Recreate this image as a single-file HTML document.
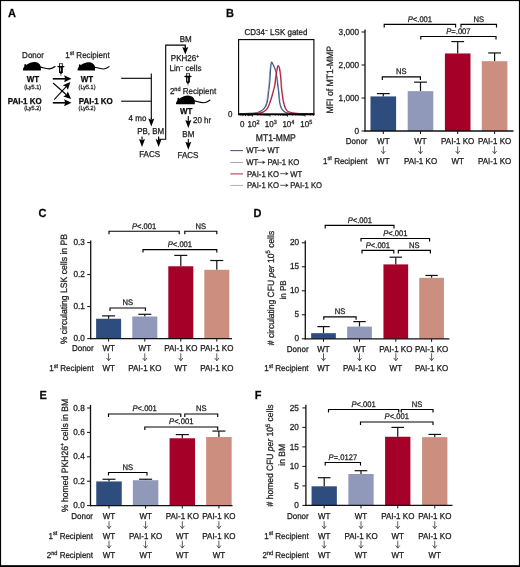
<!DOCTYPE html>
<html><head><meta charset="utf-8"><style>
html,body{margin:0;padding:0;background:#fff;}
svg{display:block;filter:blur(0.35px);}
text{font-family:"Liberation Sans", sans-serif;stroke:#222;stroke-width:0.25px;}
</style></head><body>
<svg width="520" height="567" viewBox="0 0 520 567" font-family='"Liberation Sans", sans-serif' text-rendering="geometricPrecision">
<rect width="520" height="567" fill="#fff"/>
<rect x="0.5" y="0.5" width="519" height="565.5" fill="none" stroke="#000" stroke-width="1.2"/>
<rect x="0" y="565.4" width="520" height="1.6" fill="#000"/>
<text x="0" y="0" transform="translate(8,16.9) scale(1,1.07)" font-size="11" text-anchor="start" font-weight="bold" font-style="normal" fill="#000">A</text>
<text x="0" y="0" transform="translate(226,17) scale(1,1.07)" font-size="11" text-anchor="start" font-weight="bold" font-style="normal" fill="#000">B</text>
<text x="0" y="0" transform="translate(38.5,217) scale(1,1.07)" font-size="11" text-anchor="start" font-weight="bold" font-style="normal" fill="#000">C</text>
<text x="0" y="0" transform="translate(253.6,216.6) scale(1,1.07)" font-size="11" text-anchor="start" font-weight="bold" font-style="normal" fill="#000">D</text>
<text x="0" y="0" transform="translate(39.5,399) scale(1,1.07)" font-size="11" text-anchor="start" font-weight="bold" font-style="normal" fill="#000">E</text>
<text x="0" y="0" transform="translate(254.8,398.8) scale(1,1.07)" font-size="11" text-anchor="start" font-weight="bold" font-style="normal" fill="#000">F</text>
<text x="0" y="0" transform="translate(33,57.8) scale(1,1.07)" font-size="8" text-anchor="middle" font-weight="normal" font-style="normal" fill="#222">Donor</text>
<text x="0" y="0" transform="translate(87.5,57.8) scale(1,1.07)" font-size="8" text-anchor="middle" font-weight="normal" font-style="normal" fill="#222">1<tspan dy="-3" font-size="5.6">st</tspan><tspan dy="3"> Recipient</tspan></text>
<path transform="translate(22.9,70.4) scale(1.0)" d="M0 -0.5 C0 -1.6 0.7 -2.7 1.4 -3.8 L1.4 -5.4 C1.5 -6.5 3.0 -6.7 3.3 -5.3 C5.2 -7.0 8.2 -8.4 11.6 -8.4 C14.6 -8.3 17.2 -6.6 17.7 -4.2 C18.0 -2.6 18.0 -1.0 17.9 0 L0.6 0 C0.2 -0.1 0 -0.3 0 -0.5 Z" fill="#000"/>
<path transform="translate(22.9,70.4) scale(1.0)" d="M17.4 -3.3 C20.5 -2.6 23.5 -1.4 26.5 -1.5 C29 -1.7 30.8 -2.8 32.2 -3.9" fill="none" stroke="#000" stroke-width="1.1" stroke-linecap="round"/>
<path transform="translate(77.5,70.4) scale(0.98)" d="M0 -0.5 C0 -1.6 0.7 -2.7 1.4 -3.8 L1.4 -5.4 C1.5 -6.5 3.0 -6.7 3.3 -5.3 C5.2 -7.0 8.2 -8.4 11.6 -8.4 C14.6 -8.3 17.2 -6.6 17.7 -4.2 C18.0 -2.6 18.0 -1.0 17.9 0 L0.6 0 C0.2 -0.1 0 -0.3 0 -0.5 Z" fill="#000"/>
<path transform="translate(77.5,70.4) scale(0.98)" d="M17.4 -3.3 C20.5 -2.6 23.5 -1.4 26.5 -1.5 C29 -1.7 30.8 -2.8 32.2 -3.9" fill="none" stroke="#000" stroke-width="1.1" stroke-linecap="round"/>
<g transform="translate(60.95,63.3) scale(1)"><path d="M-1.65 0.2 H1.55" stroke="#444" stroke-width="0.8" fill="none"/><path d="M-1.35 0.1 V3.3 M1.35 0.1 V3.3" stroke="#000" stroke-width="0.9" fill="none"/><path d="M-3.0 3.3 H2.9" stroke="#000" stroke-width="1.3" stroke-linecap="round" fill="none"/><path d="M-1.9 3.3 H1.9 V8.9 L0.25 10.9 H-0.25 L-1.9 8.9 Z" fill="#000"/><path d="M-0.35 4.4 V8.1" stroke="#fff" stroke-width="0.75" fill="none"/><path d="M0 10.5 V12.6" stroke="#555" stroke-width="0.7" fill="none"/></g>
<text x="0" y="0" transform="translate(33,82.3) scale(1,1.07)" font-size="8" text-anchor="middle" font-weight="bold" font-style="normal" fill="#000">WT</text>
<text x="0" y="0" transform="translate(32.6,88.6) scale(1,1.07)" font-size="5.5" text-anchor="middle" font-weight="normal" font-style="normal" fill="#222">(Ly5.1)</text>
<text x="0" y="0" transform="translate(24.7,104.3) scale(1,1.07)" font-size="8" text-anchor="middle" font-weight="bold" font-style="normal" fill="#000">PAI-1 KO</text>
<text x="0" y="0" transform="translate(32.6,110.4) scale(1,1.07)" font-size="5.5" text-anchor="middle" font-weight="normal" font-style="normal" fill="#222">(Ly5.2)</text>
<text x="0" y="0" transform="translate(87,82.3) scale(1,1.07)" font-size="8" text-anchor="middle" font-weight="bold" font-style="normal" fill="#000">WT</text>
<text x="0" y="0" transform="translate(87,88.6) scale(1,1.07)" font-size="5.5" text-anchor="middle" font-weight="normal" font-style="normal" fill="#222">(Ly5.1)</text>
<text x="0" y="0" transform="translate(95.8,104.3) scale(1,1.07)" font-size="8" text-anchor="middle" font-weight="bold" font-style="normal" fill="#000">PAI-1 KO</text>
<text x="0" y="0" transform="translate(87,110.4) scale(1,1.07)" font-size="5.5" text-anchor="middle" font-weight="normal" font-style="normal" fill="#222">(Ly5.2)</text>
<line x1="52.8" y1="78.8" x2="65.21" y2="78.8" stroke="#000" stroke-width="1.6"/>
<path d="M71.5 78.8 L64.1 82.3 L65.21 78.8 L64.1 75.3 Z" fill="#000"/>
<line x1="52.8" y1="102.8" x2="65.21" y2="102.8" stroke="#000" stroke-width="1.6"/>
<path d="M71.5 102.8 L64.1 106.3 L65.21 102.8 L64.1 99.3 Z" fill="#000"/>
<line x1="53.1" y1="83" x2="66.39" y2="94.74" stroke="#000" stroke-width="1.05"/>
<path d="M71.1 98.9 L63.3 96.55 L66.39 94.74 L67.8 91.45 Z" fill="#000"/>
<line x1="54.2" y1="99.6" x2="66.14" y2="86.63" stroke="#000" stroke-width="1.05"/>
<path d="M70.4 82 L67.89 89.75 L66.14 86.63 L62.89 85.14 Z" fill="#000"/>
<line x1="121.2" y1="78.3" x2="151.3" y2="78.3" stroke="#000" stroke-width="1.1"/>
<line x1="121.2" y1="101.2" x2="151.3" y2="101.2" stroke="#000" stroke-width="1.1"/>
<line x1="151.3" y1="73.4" x2="151.3" y2="119" stroke="#000" stroke-width="1.1"/>
<line x1="151.3" y1="118" x2="151.3" y2="119.7" stroke="#000" stroke-width="1.1"/>
<path d="M151.3 126.5 L148.3 118.5 L151.3 119.7 L154.3 118.5 Z" fill="#000"/>
<text x="0" y="0" transform="translate(137.5,120.7) scale(1,1.07)" font-size="8" text-anchor="middle" font-weight="normal" font-style="normal" fill="#222">4 mo</text>
<text x="0" y="0" transform="translate(150.7,134.4) scale(1,1.07)" font-size="8" text-anchor="middle" font-weight="normal" font-style="normal" fill="#222">PB, BM</text>
<line x1="142" y1="136.5" x2="142" y2="140.3" stroke="#000" stroke-width="1.1"/>
<path d="M142 147.1 L139 139.1 L142 140.3 L145 139.1 Z" fill="#000"/>
<path d="M158.6 136.5 V139.2 H165.7 V45.1 H185.3 V48" fill="none" stroke="#000" stroke-width="1.1"/>
<line x1="158.6" y1="137.5" x2="158.6" y2="140.3" stroke="#000" stroke-width="1.1"/>
<path d="M158.6 147.1 L155.6 139.1 L158.6 140.3 L161.6 139.1 Z" fill="#000"/>
<line x1="185.3" y1="46" x2="185.3" y2="48.23" stroke="#000" stroke-width="1.1"/>
<path d="M185.3 54.6 L182.3 47.1 L185.3 48.23 L188.3 47.1 Z" fill="#000"/>
<text x="0" y="0" transform="translate(149.6,156.7) scale(1,1.07)" font-size="8" text-anchor="middle" font-weight="normal" font-style="normal" fill="#222">FACS</text>
<text x="0" y="0" transform="translate(185.7,41.9) scale(1,1.07)" font-size="8" text-anchor="middle" font-weight="normal" font-style="normal" fill="#222">BM</text>
<text x="0" y="0" transform="translate(185,61.2) scale(1,1.07)" font-size="8" text-anchor="middle" font-weight="normal" font-style="normal" fill="#222">PKH26<tspan dy="-3" font-size="5">+</tspan><tspan dy="3"></tspan></text>
<text x="0" y="0" transform="translate(185.5,71.3) scale(1,1.07)" font-size="8" text-anchor="middle" font-weight="normal" font-style="normal" fill="#222">Lin<tspan dy="-3" font-size="5">&#8722;</tspan><tspan dy="3"> cells</tspan></text>
<g transform="translate(188,73.2) scale(1)"><path d="M-1.65 0.2 H1.55" stroke="#444" stroke-width="0.8" fill="none"/><path d="M-1.35 0.1 V3.3 M1.35 0.1 V3.3" stroke="#000" stroke-width="0.9" fill="none"/><path d="M-3.0 3.3 H2.9" stroke="#000" stroke-width="1.3" stroke-linecap="round" fill="none"/><path d="M-1.9 3.3 H1.9 V8.9 L0.25 10.9 H-0.25 L-1.9 8.9 Z" fill="#000"/><path d="M-0.35 4.4 V8.1" stroke="#fff" stroke-width="0.75" fill="none"/><path d="M0 10.5 V12.6" stroke="#555" stroke-width="0.7" fill="none"/></g>
<text x="0" y="0" transform="translate(193,93.8) scale(1,1.07)" font-size="8" text-anchor="middle" font-weight="normal" font-style="normal" fill="#222">2<tspan dy="-3" font-size="5.6">nd</tspan><tspan dy="3"> Recipient</tspan></text>
<path transform="translate(176,104.3) scale(1.05)" d="M0 -0.5 C0 -1.6 0.7 -2.7 1.4 -3.8 L1.4 -5.4 C1.5 -6.5 3.0 -6.7 3.3 -5.3 C5.2 -7.0 8.2 -8.4 11.6 -8.4 C14.6 -8.3 17.2 -6.6 17.7 -4.2 C18.0 -2.6 18.0 -1.0 17.9 0 L0.6 0 C0.2 -0.1 0 -0.3 0 -0.5 Z" fill="#000"/>
<path transform="translate(176,104.3) scale(1.05)" d="M17.4 -3.3 C20.5 -2.6 23.5 -1.4 26.5 -1.5 C29 -1.7 30.8 -2.8 32.2 -3.9" fill="none" stroke="#000" stroke-width="1.1" stroke-linecap="round"/>
<text x="0" y="0" transform="translate(186.2,113.8) scale(1,1.07)" font-size="8" text-anchor="middle" font-weight="bold" font-style="normal" fill="#000">WT</text>
<line x1="188.3" y1="116" x2="188.3" y2="121.2" stroke="#000" stroke-width="1.1"/>
<path d="M188.3 128 L185.3 120 L188.3 121.2 L191.3 120 Z" fill="#000"/>
<text x="0" y="0" transform="translate(193,123.2) scale(1,1.07)" font-size="8" text-anchor="start" font-weight="normal" font-style="normal" fill="#222">20 hr</text>
<text x="0" y="0" transform="translate(188.3,136.5) scale(1,1.07)" font-size="8" text-anchor="middle" font-weight="normal" font-style="normal" fill="#222">BM</text>
<line x1="188.3" y1="139" x2="188.3" y2="142.9" stroke="#000" stroke-width="1.1"/>
<path d="M188.3 149.7 L185.3 141.7 L188.3 142.9 L191.3 141.7 Z" fill="#000"/>
<text x="0" y="0" transform="translate(188,158) scale(1,1.07)" font-size="8" text-anchor="middle" font-weight="normal" font-style="normal" fill="#222">FACS</text>
<text x="0" y="0" transform="translate(276,35) scale(1,1.07)" font-size="8" text-anchor="middle" font-weight="normal" font-style="normal" fill="#222">CD34<tspan dy="-3" font-size="5">&#8722;</tspan><tspan dy="3"> LSK gated</tspan></text>
<text x="0" y="0" transform="translate(230.2,116.6) scale(1,1.07)" font-size="8" text-anchor="middle" font-weight="normal" font-style="normal" fill="#222">0</text>
<text x="0" y="0" transform="translate(242.2,127.3) scale(1,1.07)" font-size="8" text-anchor="middle" font-weight="normal" font-style="normal" fill="#222">0</text>
<text x="0" y="0" transform="translate(253.5,127.3) scale(1,1.07)" font-size="8" text-anchor="middle" font-weight="normal" font-style="normal" fill="#222">10<tspan dy="-3.2" font-size="5.5">2</tspan><tspan dy="3.2"></tspan></text>
<text x="0" y="0" transform="translate(270.8,127.3) scale(1,1.07)" font-size="8" text-anchor="middle" font-weight="normal" font-style="normal" fill="#222">10<tspan dy="-3.2" font-size="5.5">3</tspan><tspan dy="3.2"></tspan></text>
<text x="0" y="0" transform="translate(288.4,127.3) scale(1,1.07)" font-size="8" text-anchor="middle" font-weight="normal" font-style="normal" fill="#222">10<tspan dy="-3.2" font-size="5.5">4</tspan><tspan dy="3.2"></tspan></text>
<text x="0" y="0" transform="translate(306.3,127.3) scale(1,1.07)" font-size="8" text-anchor="middle" font-weight="normal" font-style="normal" fill="#222">10<tspan dy="-3.2" font-size="5.5">5</tspan><tspan dy="3.2"></tspan></text>
<text x="0" y="0" transform="translate(275.8,140.9) scale(1,1.13)" font-size="8.6" text-anchor="middle" font-weight="normal" font-style="normal" fill="#222">MT1-MMP</text>
<path d="M238.2 113.6 C240.03 113.57 246.47 113.5 249.2 113.4 C251.93 113.3 252.85 113.25 254.6 113 C256.35 112.75 258.15 112.65 259.7 111.9 C261.25 111.15 262.77 110.05 263.9 108.5 C265.03 106.95 265.87 105 266.5 102.6 C267.13 100.2 267.33 96.93 267.7 94.1 C268.07 91.27 268.43 88.18 268.7 85.6 C268.97 83.02 269.12 81.1 269.3 78.6 C269.48 76.1 269.43 73.23 269.8 70.6 C270.17 67.97 270.78 63.52 271.5 62.8 C272.22 62.08 273.35 64.95 274.1 66.3 C274.85 67.65 275.5 69.18 276 70.9 C276.5 72.62 276.78 74.65 277.1 76.6 C277.42 78.55 277.67 80.77 277.9 82.6 C278.13 84.43 278.27 85.68 278.5 87.6 C278.73 89.52 279.03 91.6 279.3 94.1 C279.57 96.6 279.68 100.18 280.1 102.6 C280.52 105.02 281.02 107.02 281.8 108.6 C282.58 110.18 283.73 111.37 284.8 112.1 C285.87 112.83 286.4 112.77 288.2 113 C290 113.23 291.3 113.4 295.6 113.5 C299.9 113.6 310.93 113.58 314 113.6" fill="none" stroke="#9aa4b8" stroke-width="1.0" stroke-linejoin="round"/>
<path d="M239 113.6 C240.83 113.57 247.27 113.5 250 113.4 C252.73 113.3 253.65 113.35 255.4 113 C257.15 112.65 258.95 112.15 260.5 111.3 C262.05 110.45 263.57 109.45 264.7 107.9 C265.83 106.35 266.67 104.4 267.3 102 C267.93 99.6 268.13 96.33 268.5 93.5 C268.87 90.67 269.23 87.58 269.5 85 C269.77 82.42 269.92 80.5 270.1 78 C270.28 75.5 270.37 72.63 270.6 70 C270.83 67.37 271.02 62.92 271.5 62.2 C271.98 61.48 272.85 64.35 273.5 65.7 C274.15 67.05 274.9 68.58 275.4 70.3 C275.9 72.02 276.18 74.05 276.5 76 C276.82 77.95 277.07 80.17 277.3 82 C277.53 83.83 277.67 85.08 277.9 87 C278.13 88.92 278.43 91 278.7 93.5 C278.97 96 279.08 99.58 279.5 102 C279.92 104.42 280.42 106.42 281.2 108 C281.98 109.58 283.13 110.67 284.2 111.5 C285.27 112.33 285.8 112.67 287.6 113 C289.4 113.33 290.7 113.4 295 113.5 C299.3 113.6 310.33 113.58 313.4 113.6" fill="none" stroke="#3e5c82" stroke-width="1.1" stroke-linejoin="round"/>
<path d="M238.4 113.6 C240.23 113.58 246.4 113.55 249.4 113.5 C252.4 113.45 254.23 113.53 256.4 113.3 C258.57 113.07 260.68 112.8 262.4 112.1 C264.12 111.4 265.5 110.72 266.7 109.1 C267.9 107.48 268.68 104.93 269.6 102.4 C270.52 99.87 271.42 96.73 272.2 93.9 C272.98 91.07 273.85 87.65 274.3 85.4 C274.75 83.15 274.68 82.07 274.9 80.4 C275.12 78.73 275.35 77.07 275.6 75.4 C275.85 73.73 276 71.95 276.4 70.4 C276.8 68.85 277.43 66.52 278 66.1 C278.57 65.68 279.4 67.1 279.8 67.9 C280.2 68.7 280.18 69.48 280.4 70.9 C280.62 72.32 280.9 74.48 281.1 76.4 C281.3 78.32 281.47 80.57 281.6 82.4 C281.73 84.23 281.72 85.48 281.9 87.4 C282.08 89.32 282.35 91.4 282.7 93.9 C283.05 96.4 283.43 99.9 284 102.4 C284.57 104.9 285.33 107.32 286.1 108.9 C286.87 110.48 287.27 111.22 288.6 111.9 C289.93 112.58 292.1 112.73 294.1 113 C296.1 113.27 297.28 113.4 300.6 113.5 C303.92 113.6 311.77 113.58 314 113.6" fill="none" stroke="#e0a4aa" stroke-width="1.0" stroke-linejoin="round"/>
<path d="M239 113.6 C240.83 113.58 247 113.55 250 113.5 C253 113.45 254.83 113.53 257 113.3 C259.17 113.07 261.28 112.87 263 112.1 C264.72 111.33 266.1 110.38 267.3 108.7 C268.5 107.02 269.28 104.53 270.2 102 C271.12 99.47 272.02 96.33 272.8 93.5 C273.58 90.67 274.45 87.25 274.9 85 C275.35 82.75 275.28 81.67 275.5 80 C275.72 78.33 275.95 76.67 276.2 75 C276.45 73.33 276.7 71.55 277 70 C277.3 68.45 277.63 66.12 278 65.7 C278.37 65.28 278.9 66.7 279.2 67.5 C279.5 68.3 279.58 69.08 279.8 70.5 C280.02 71.92 280.3 74.08 280.5 76 C280.7 77.92 280.87 80.17 281 82 C281.13 83.83 281.12 85.08 281.3 87 C281.48 88.92 281.75 91 282.1 93.5 C282.45 96 282.83 99.5 283.4 102 C283.97 104.5 284.73 106.92 285.5 108.5 C286.27 110.08 286.67 110.75 288 111.5 C289.33 112.25 291.5 112.67 293.5 113 C295.5 113.33 296.68 113.4 300 113.5 C303.32 113.6 311.17 113.58 313.4 113.6" fill="none" stroke="#b02444" stroke-width="1.2" stroke-linejoin="round"/>
<rect x="238.6" y="39.6" width="75.3" height="74.6" fill="none" stroke="#000" stroke-width="1.1"/>
<line x1="238" y1="114.3" x2="314.5" y2="114.3" stroke="#000" stroke-width="1.7"/>
<line x1="240.27" y1="114.3" x2="240.27" y2="115.8" stroke="#000" stroke-width="0.75"/>
<line x1="243.35" y1="114.3" x2="243.35" y2="115.8" stroke="#000" stroke-width="0.75"/>
<line x1="245.54" y1="114.3" x2="245.54" y2="115.8" stroke="#000" stroke-width="0.75"/>
<line x1="247.23" y1="114.3" x2="247.23" y2="115.8" stroke="#000" stroke-width="0.75"/>
<line x1="248.62" y1="114.3" x2="248.62" y2="115.8" stroke="#000" stroke-width="0.75"/>
<line x1="249.79" y1="114.3" x2="249.79" y2="115.8" stroke="#000" stroke-width="0.75"/>
<line x1="250.8" y1="114.3" x2="250.8" y2="115.8" stroke="#000" stroke-width="0.75"/>
<line x1="251.7" y1="114.3" x2="251.7" y2="115.8" stroke="#000" stroke-width="0.75"/>
<line x1="252.5" y1="114.3" x2="252.5" y2="116.7" stroke="#000" stroke-width="0.75"/>
<line x1="257.77" y1="114.3" x2="257.77" y2="115.8" stroke="#000" stroke-width="0.75"/>
<line x1="260.85" y1="114.3" x2="260.85" y2="115.8" stroke="#000" stroke-width="0.75"/>
<line x1="263.04" y1="114.3" x2="263.04" y2="115.8" stroke="#000" stroke-width="0.75"/>
<line x1="264.73" y1="114.3" x2="264.73" y2="115.8" stroke="#000" stroke-width="0.75"/>
<line x1="266.12" y1="114.3" x2="266.12" y2="115.8" stroke="#000" stroke-width="0.75"/>
<line x1="267.29" y1="114.3" x2="267.29" y2="115.8" stroke="#000" stroke-width="0.75"/>
<line x1="268.3" y1="114.3" x2="268.3" y2="115.8" stroke="#000" stroke-width="0.75"/>
<line x1="269.2" y1="114.3" x2="269.2" y2="115.8" stroke="#000" stroke-width="0.75"/>
<line x1="270" y1="114.3" x2="270" y2="116.7" stroke="#000" stroke-width="0.75"/>
<line x1="275.27" y1="114.3" x2="275.27" y2="115.8" stroke="#000" stroke-width="0.75"/>
<line x1="278.35" y1="114.3" x2="278.35" y2="115.8" stroke="#000" stroke-width="0.75"/>
<line x1="280.54" y1="114.3" x2="280.54" y2="115.8" stroke="#000" stroke-width="0.75"/>
<line x1="282.23" y1="114.3" x2="282.23" y2="115.8" stroke="#000" stroke-width="0.75"/>
<line x1="283.62" y1="114.3" x2="283.62" y2="115.8" stroke="#000" stroke-width="0.75"/>
<line x1="284.79" y1="114.3" x2="284.79" y2="115.8" stroke="#000" stroke-width="0.75"/>
<line x1="285.8" y1="114.3" x2="285.8" y2="115.8" stroke="#000" stroke-width="0.75"/>
<line x1="286.7" y1="114.3" x2="286.7" y2="115.8" stroke="#000" stroke-width="0.75"/>
<line x1="287.5" y1="114.3" x2="287.5" y2="116.7" stroke="#000" stroke-width="0.75"/>
<line x1="292.77" y1="114.3" x2="292.77" y2="115.8" stroke="#000" stroke-width="0.75"/>
<line x1="295.85" y1="114.3" x2="295.85" y2="115.8" stroke="#000" stroke-width="0.75"/>
<line x1="298.04" y1="114.3" x2="298.04" y2="115.8" stroke="#000" stroke-width="0.75"/>
<line x1="299.73" y1="114.3" x2="299.73" y2="115.8" stroke="#000" stroke-width="0.75"/>
<line x1="301.12" y1="114.3" x2="301.12" y2="115.8" stroke="#000" stroke-width="0.75"/>
<line x1="302.29" y1="114.3" x2="302.29" y2="115.8" stroke="#000" stroke-width="0.75"/>
<line x1="303.3" y1="114.3" x2="303.3" y2="115.8" stroke="#000" stroke-width="0.75"/>
<line x1="304.2" y1="114.3" x2="304.2" y2="115.8" stroke="#000" stroke-width="0.75"/>
<line x1="305" y1="114.3" x2="305" y2="116.7" stroke="#000" stroke-width="0.75"/>
<line x1="310.27" y1="114.3" x2="310.27" y2="115.8" stroke="#000" stroke-width="0.75"/>
<line x1="313.35" y1="114.3" x2="313.35" y2="115.8" stroke="#000" stroke-width="0.75"/>
<line x1="242.2" y1="114.3" x2="242.2" y2="116.2" stroke="#000" stroke-width="0.75"/>
<line x1="245.5" y1="114.3" x2="245.5" y2="116.2" stroke="#000" stroke-width="0.75"/>
<line x1="248.8" y1="114.3" x2="248.8" y2="116.2" stroke="#000" stroke-width="0.75"/>
<line x1="230.3" y1="150.6" x2="243" y2="150.6" stroke="#4a5f80" stroke-width="1.1"/>
<text x="0" y="0" transform="translate(246.3,153.4) scale(1,1.07)" font-size="7.7" text-anchor="start" font-weight="normal" font-style="normal" fill="#222">WT</text>
<path d="M257.3 150.4 H263.3" stroke="#333" stroke-width="0.8" fill="none"/>
<path d="M265.5 150.4 L262.3 148.5 L263.1 150.4 L262.3 152.3 Z" fill="#333"/>
<text x="0" y="0" transform="translate(267.4,153.4) scale(1,1.07)" font-size="7.7" text-anchor="start" font-weight="normal" font-style="normal" fill="#222">WT</text>
<line x1="230.3" y1="162.5" x2="243" y2="162.5" stroke="#a4abba" stroke-width="1.1"/>
<text x="0" y="0" transform="translate(246.3,165.3) scale(1,1.07)" font-size="7.7" text-anchor="start" font-weight="normal" font-style="normal" fill="#222">WT</text>
<path d="M257.3 162.3 H263.3" stroke="#333" stroke-width="0.8" fill="none"/>
<path d="M265.5 162.3 L262.3 160.4 L263.1 162.3 L262.3 164.2 Z" fill="#333"/>
<text x="0" y="0" transform="translate(267.4,165.3) scale(1,1.07)" font-size="7.7" text-anchor="start" font-weight="normal" font-style="normal" fill="#222">PAI-1 KO</text>
<line x1="230.3" y1="173.9" x2="243" y2="173.9" stroke="#b83a55" stroke-width="1.1"/>
<text x="0" y="0" transform="translate(247,176.7) scale(1,1.07)" font-size="7.7" text-anchor="start" font-weight="normal" font-style="normal" fill="#222">PAI-1 KO</text>
<path d="M280.2 173.7 H286.4" stroke="#333" stroke-width="0.8" fill="none"/>
<path d="M288.6 173.7 L285.4 171.8 L286.2 173.7 L285.4 175.6 Z" fill="#333"/>
<text x="0" y="0" transform="translate(290.2,176.7) scale(1,1.07)" font-size="7.7" text-anchor="start" font-weight="normal" font-style="normal" fill="#222">WT</text>
<line x1="230.3" y1="185.5" x2="243" y2="185.5" stroke="#d8a6ae" stroke-width="1.1"/>
<text x="0" y="0" transform="translate(247,188.3) scale(1,1.07)" font-size="7.7" text-anchor="start" font-weight="normal" font-style="normal" fill="#222">PAI-1 KO</text>
<path d="M280.2 185.3 H286.4" stroke="#333" stroke-width="0.8" fill="none"/>
<path d="M288.6 185.3 L285.4 183.4 L286.2 185.3 L285.4 187.2 Z" fill="#333"/>
<text x="0" y="0" transform="translate(290.2,188.3) scale(1,1.07)" font-size="7.7" text-anchor="start" font-weight="normal" font-style="normal" fill="#222">PAI-1 KO</text>
<line x1="383.3" y1="93.61" x2="383.3" y2="96.42" stroke="#111" stroke-width="1.2"/>
<line x1="376.9" y1="93.61" x2="389.7" y2="93.61" stroke="#111" stroke-width="1.2"/>
<rect x="370.5" y="96.42" width="25.6" height="34.58" fill="#2e4d7e"/>
<line x1="420.5" y1="82.16" x2="420.5" y2="91.14" stroke="#111" stroke-width="1.2"/>
<line x1="414.1" y1="82.16" x2="426.9" y2="82.16" stroke="#111" stroke-width="1.2"/>
<rect x="407.7" y="91.14" width="25.6" height="39.86" fill="#9099b9"/>
<line x1="457.7" y1="41.57" x2="457.7" y2="53.45" stroke="#111" stroke-width="1.2"/>
<line x1="451.3" y1="41.57" x2="464.1" y2="41.57" stroke="#111" stroke-width="1.2"/>
<rect x="444.9" y="53.45" width="25.6" height="77.55" fill="#a50028"/>
<line x1="494.6" y1="52.95" x2="494.6" y2="61.2" stroke="#111" stroke-width="1.2"/>
<line x1="488.2" y1="52.95" x2="501" y2="52.95" stroke="#111" stroke-width="1.2"/>
<rect x="481.8" y="61.2" width="25.6" height="69.8" fill="#cc8e7e"/>
<line x1="365" y1="29.5" x2="365" y2="131.6" stroke="#111" stroke-width="1.3"/>
<line x1="364.4" y1="131" x2="513.5" y2="131" stroke="#111" stroke-width="1.3"/>
<line x1="383.3" y1="131" x2="383.3" y2="134" stroke="#111" stroke-width="1"/>
<line x1="420.5" y1="131" x2="420.5" y2="134" stroke="#111" stroke-width="1"/>
<line x1="457.7" y1="131" x2="457.7" y2="134" stroke="#111" stroke-width="1"/>
<line x1="494.6" y1="131" x2="494.6" y2="134" stroke="#111" stroke-width="1"/>
<line x1="361.5" y1="131" x2="365" y2="131" stroke="#111" stroke-width="1"/>
<text x="0" y="0" transform="translate(359.1,133.6) scale(1,1.07)" font-size="8.2" text-anchor="end" font-weight="normal" font-style="normal" fill="#222">0</text>
<line x1="361.5" y1="98" x2="365" y2="98" stroke="#111" stroke-width="1"/>
<text x="0" y="0" transform="translate(359.1,100.6) scale(1,1.07)" font-size="8.2" text-anchor="end" font-weight="normal" font-style="normal" fill="#222">1,000</text>
<line x1="361.5" y1="65" x2="365" y2="65" stroke="#111" stroke-width="1"/>
<text x="0" y="0" transform="translate(359.1,67.6) scale(1,1.07)" font-size="8.2" text-anchor="end" font-weight="normal" font-style="normal" fill="#222">2,000</text>
<line x1="361.5" y1="32" x2="365" y2="32" stroke="#111" stroke-width="1"/>
<text x="0" y="0" transform="translate(359.1,34.6) scale(1,1.07)" font-size="8.2" text-anchor="end" font-weight="normal" font-style="normal" fill="#222">3,000</text>
<path d="M384.2 27.4 V24.4 H455.6 V27.4" fill="none" stroke="#000" stroke-width="1.15"/>
<text x="0" y="0" transform="translate(419.9,21.8) scale(1,1.07)" font-size="7.6" text-anchor="middle" font-weight="normal" font-style="normal" fill="#222"><tspan font-style="italic">P</tspan>&lt;.001</text>
<path d="M461 27.4 V24.4 H496.5 V27.4" fill="none" stroke="#000" stroke-width="1.15"/>
<text x="0" y="0" transform="translate(478.75,21.8) scale(1,1.07)" font-size="7.6" text-anchor="middle" font-weight="normal" font-style="normal" fill="#222">NS</text>
<path d="M420.8 39.5 V36.5 H496 V39.5" fill="none" stroke="#000" stroke-width="1.15"/>
<text x="0" y="0" transform="translate(458.4,33.9) scale(1,1.07)" font-size="7.6" text-anchor="middle" font-weight="normal" font-style="normal" fill="#222"><tspan font-style="italic">P</tspan>=.007</text>
<path d="M382.3 79.9 V76.9 H420.4 V79.9" fill="none" stroke="#000" stroke-width="1.15"/>
<text x="0" y="0" transform="translate(401.35,74.3) scale(1,1.07)" font-size="7.6" text-anchor="middle" font-weight="normal" font-style="normal" fill="#222">NS</text>
<text x="0" y="0" transform="translate(332.8,79.7) rotate(-90) scale(1,1.07)" font-size="8.7" text-anchor="middle" font-weight="normal" font-style="normal" fill="#222">MFI of MT1-MMP</text>
<text x="0" y="0" transform="translate(383.3,144.4) scale(1,1.07)" font-size="8" text-anchor="middle" font-weight="normal" font-style="normal" fill="#222">WT</text>
<text x="0" y="0" transform="translate(420.5,144.4) scale(1,1.07)" font-size="8" text-anchor="middle" font-weight="normal" font-style="normal" fill="#222">WT</text>
<text x="0" y="0" transform="translate(457.7,144.4) scale(1,1.07)" font-size="8" text-anchor="middle" font-weight="normal" font-style="normal" fill="#222">PAI-1 KO</text>
<text x="0" y="0" transform="translate(494.6,144.4) scale(1,1.07)" font-size="8" text-anchor="middle" font-weight="normal" font-style="normal" fill="#222">PAI-1 KO</text>
<path d="M383.3 146.3 V153.7 M381.2 151 L383.3 153.7 L385.4 151" fill="none" stroke="#333" stroke-width="0.8"/>
<path d="M420.5 146.3 V153.7 M418.4 151 L420.5 153.7 L422.6 151" fill="none" stroke="#333" stroke-width="0.8"/>
<path d="M457.7 146.3 V153.7 M455.6 151 L457.7 153.7 L459.8 151" fill="none" stroke="#333" stroke-width="0.8"/>
<path d="M494.6 146.3 V153.7 M492.5 151 L494.6 153.7 L496.7 151" fill="none" stroke="#333" stroke-width="0.8"/>
<text x="0" y="0" transform="translate(383.3,163.6) scale(1,1.07)" font-size="8" text-anchor="middle" font-weight="normal" font-style="normal" fill="#222">WT</text>
<text x="0" y="0" transform="translate(420.5,163.6) scale(1,1.07)" font-size="8" text-anchor="middle" font-weight="normal" font-style="normal" fill="#222">PAI-1 KO</text>
<text x="0" y="0" transform="translate(457.7,163.6) scale(1,1.07)" font-size="8" text-anchor="middle" font-weight="normal" font-style="normal" fill="#222">WT</text>
<text x="0" y="0" transform="translate(494.6,163.6) scale(1,1.07)" font-size="8" text-anchor="middle" font-weight="normal" font-style="normal" fill="#222">PAI-1 KO</text>
<text x="0" y="0" transform="translate(367.5,144.4) scale(1,1.07)" font-size="8" text-anchor="end" font-weight="normal" font-style="normal" fill="#222">Donor</text>
<text x="0" y="0" transform="translate(367.5,163.6) scale(1,1.07)" font-size="8" text-anchor="end" font-weight="normal" font-style="normal" fill="#222">1<tspan dy="-3" font-size="5.6">st</tspan><tspan dy="3"> Recipient</tspan></text>
<line x1="108.6" y1="315.88" x2="108.6" y2="318.76" stroke="#111" stroke-width="1.2"/>
<line x1="102.1" y1="315.88" x2="115.1" y2="315.88" stroke="#111" stroke-width="1.2"/>
<rect x="96.1" y="318.76" width="25" height="19.84" fill="#2e4d7e"/>
<line x1="144.8" y1="314.28" x2="144.8" y2="316.52" stroke="#111" stroke-width="1.2"/>
<line x1="138.3" y1="314.28" x2="151.3" y2="314.28" stroke="#111" stroke-width="1.2"/>
<rect x="132.3" y="316.52" width="25" height="22.08" fill="#9099b9"/>
<line x1="180.8" y1="255.4" x2="180.8" y2="266.28" stroke="#111" stroke-width="1.2"/>
<line x1="174.3" y1="255.4" x2="187.3" y2="255.4" stroke="#111" stroke-width="1.2"/>
<rect x="168.3" y="266.28" width="25" height="72.32" fill="#a50028"/>
<line x1="216.8" y1="260.52" x2="216.8" y2="269.8" stroke="#111" stroke-width="1.2"/>
<line x1="210.3" y1="260.52" x2="223.3" y2="260.52" stroke="#111" stroke-width="1.2"/>
<rect x="204.3" y="269.8" width="25" height="68.8" fill="#cc8e7e"/>
<line x1="90.7" y1="240.5" x2="90.7" y2="339.2" stroke="#111" stroke-width="1.3"/>
<line x1="90.1" y1="338.6" x2="232" y2="338.6" stroke="#111" stroke-width="1.3"/>
<line x1="108.6" y1="338.6" x2="108.6" y2="341.6" stroke="#111" stroke-width="1"/>
<line x1="144.8" y1="338.6" x2="144.8" y2="341.6" stroke="#111" stroke-width="1"/>
<line x1="180.8" y1="338.6" x2="180.8" y2="341.6" stroke="#111" stroke-width="1"/>
<line x1="216.8" y1="338.6" x2="216.8" y2="341.6" stroke="#111" stroke-width="1"/>
<line x1="87.2" y1="338.6" x2="90.7" y2="338.6" stroke="#111" stroke-width="1"/>
<text x="0" y="0" transform="translate(84.9,341.2) scale(1,1.07)" font-size="8.2" text-anchor="end" font-weight="normal" font-style="normal" fill="#222">0.0</text>
<line x1="87.2" y1="306.6" x2="90.7" y2="306.6" stroke="#111" stroke-width="1"/>
<text x="0" y="0" transform="translate(84.9,309.2) scale(1,1.07)" font-size="8.2" text-anchor="end" font-weight="normal" font-style="normal" fill="#222">0.1</text>
<line x1="87.2" y1="274.6" x2="90.7" y2="274.6" stroke="#111" stroke-width="1"/>
<text x="0" y="0" transform="translate(84.9,277.2) scale(1,1.07)" font-size="8.2" text-anchor="end" font-weight="normal" font-style="normal" fill="#222">0.2</text>
<line x1="87.2" y1="242.6" x2="90.7" y2="242.6" stroke="#111" stroke-width="1"/>
<text x="0" y="0" transform="translate(84.9,245.2) scale(1,1.07)" font-size="8.2" text-anchor="end" font-weight="normal" font-style="normal" fill="#222">0.3</text>
<path d="M109 234.2 V231.2 H179.2 V234.2" fill="none" stroke="#000" stroke-width="1.15"/>
<text x="0" y="0" transform="translate(144.1,228.6) scale(1,1.07)" font-size="7.6" text-anchor="middle" font-weight="normal" font-style="normal" fill="#222"><tspan font-style="italic">P</tspan>&lt;.001</text>
<path d="M184.8 234.2 V231.2 H216.8 V234.2" fill="none" stroke="#000" stroke-width="1.15"/>
<text x="0" y="0" transform="translate(200.8,228.6) scale(1,1.07)" font-size="7.6" text-anchor="middle" font-weight="normal" font-style="normal" fill="#222">NS</text>
<path d="M143 252.6 V249.6 H216.8 V252.6" fill="none" stroke="#000" stroke-width="1.15"/>
<text x="0" y="0" transform="translate(179.9,247) scale(1,1.07)" font-size="7.6" text-anchor="middle" font-weight="normal" font-style="normal" fill="#222"><tspan font-style="italic">P</tspan>&lt;.001</text>
<path d="M110 311 V308 H145.4 V311" fill="none" stroke="#000" stroke-width="1.15"/>
<text x="0" y="0" transform="translate(127.7,305.4) scale(1,1.07)" font-size="7.6" text-anchor="middle" font-weight="normal" font-style="normal" fill="#222">NS</text>
<text x="0" y="0" transform="translate(66.6,289.1) rotate(-90) scale(1,1.07)" font-size="8.65" text-anchor="middle" font-weight="normal" font-style="normal" fill="#222">% circulating LSK cells in PB</text>
<text x="0" y="0" transform="translate(108.6,351.2) scale(1,1.07)" font-size="8" text-anchor="middle" font-weight="normal" font-style="normal" fill="#222">WT</text>
<text x="0" y="0" transform="translate(144.8,351.2) scale(1,1.07)" font-size="8" text-anchor="middle" font-weight="normal" font-style="normal" fill="#222">WT</text>
<text x="0" y="0" transform="translate(180.8,351.2) scale(1,1.07)" font-size="8" text-anchor="middle" font-weight="normal" font-style="normal" fill="#222">PAI-1 KO</text>
<text x="0" y="0" transform="translate(216.8,351.2) scale(1,1.07)" font-size="8" text-anchor="middle" font-weight="normal" font-style="normal" fill="#222">PAI-1 KO</text>
<path d="M108.6 353.3 V360.7 M106.5 358 L108.6 360.7 L110.7 358" fill="none" stroke="#333" stroke-width="0.8"/>
<path d="M144.8 353.3 V360.7 M142.7 358 L144.8 360.7 L146.9 358" fill="none" stroke="#333" stroke-width="0.8"/>
<path d="M180.8 353.3 V360.7 M178.7 358 L180.8 360.7 L182.9 358" fill="none" stroke="#333" stroke-width="0.8"/>
<path d="M216.8 353.3 V360.7 M214.7 358 L216.8 360.7 L218.9 358" fill="none" stroke="#333" stroke-width="0.8"/>
<text x="0" y="0" transform="translate(108.6,371) scale(1,1.07)" font-size="8" text-anchor="middle" font-weight="normal" font-style="normal" fill="#222">WT</text>
<text x="0" y="0" transform="translate(144.8,371) scale(1,1.07)" font-size="8" text-anchor="middle" font-weight="normal" font-style="normal" fill="#222">PAI-1 KO</text>
<text x="0" y="0" transform="translate(180.8,371) scale(1,1.07)" font-size="8" text-anchor="middle" font-weight="normal" font-style="normal" fill="#222">WT</text>
<text x="0" y="0" transform="translate(216.8,371) scale(1,1.07)" font-size="8" text-anchor="middle" font-weight="normal" font-style="normal" fill="#222">PAI-1 KO</text>
<text x="0" y="0" transform="translate(93.7,351.2) scale(1,1.07)" font-size="8" text-anchor="end" font-weight="normal" font-style="normal" fill="#222">Donor</text>
<text x="0" y="0" transform="translate(93.7,371) scale(1,1.07)" font-size="8" text-anchor="end" font-weight="normal" font-style="normal" fill="#222">1<tspan dy="-3" font-size="5.6">st</tspan><tspan dy="3"> Recipient</tspan></text>
<line x1="323.5" y1="326.61" x2="323.5" y2="333.18" stroke="#111" stroke-width="1.2"/>
<line x1="317.3" y1="326.61" x2="329.7" y2="326.61" stroke="#111" stroke-width="1.2"/>
<rect x="311.15" y="333.18" width="24.7" height="5.62" fill="#2e4d7e"/>
<line x1="359.5" y1="321.62" x2="359.5" y2="326.61" stroke="#111" stroke-width="1.2"/>
<line x1="353.3" y1="321.62" x2="365.7" y2="321.62" stroke="#111" stroke-width="1.2"/>
<rect x="347.15" y="326.61" width="24.7" height="12.19" fill="#9099b9"/>
<line x1="395.8" y1="257.2" x2="395.8" y2="264.4" stroke="#111" stroke-width="1.2"/>
<line x1="389.6" y1="257.2" x2="402" y2="257.2" stroke="#111" stroke-width="1.2"/>
<rect x="383.45" y="264.4" width="24.7" height="74.4" fill="#a50028"/>
<line x1="431.6" y1="275.44" x2="431.6" y2="277.84" stroke="#111" stroke-width="1.2"/>
<line x1="425.4" y1="275.44" x2="437.8" y2="275.44" stroke="#111" stroke-width="1.2"/>
<rect x="419.25" y="277.84" width="24.7" height="60.96" fill="#cc8e7e"/>
<line x1="305.3" y1="240.5" x2="305.3" y2="339.4" stroke="#111" stroke-width="1.3"/>
<line x1="304.7" y1="338.8" x2="449.4" y2="338.8" stroke="#111" stroke-width="1.3"/>
<line x1="323.5" y1="338.8" x2="323.5" y2="341.8" stroke="#111" stroke-width="1"/>
<line x1="359.5" y1="338.8" x2="359.5" y2="341.8" stroke="#111" stroke-width="1"/>
<line x1="395.8" y1="338.8" x2="395.8" y2="341.8" stroke="#111" stroke-width="1"/>
<line x1="431.6" y1="338.8" x2="431.6" y2="341.8" stroke="#111" stroke-width="1"/>
<line x1="301.8" y1="338.8" x2="305.3" y2="338.8" stroke="#111" stroke-width="1"/>
<text x="0" y="0" transform="translate(299,341.4) scale(1,1.07)" font-size="8.2" text-anchor="end" font-weight="normal" font-style="normal" fill="#222">0</text>
<line x1="301.8" y1="314.8" x2="305.3" y2="314.8" stroke="#111" stroke-width="1"/>
<text x="0" y="0" transform="translate(299,317.4) scale(1,1.07)" font-size="8.2" text-anchor="end" font-weight="normal" font-style="normal" fill="#222">5</text>
<line x1="301.8" y1="290.8" x2="305.3" y2="290.8" stroke="#111" stroke-width="1"/>
<text x="0" y="0" transform="translate(299,293.4) scale(1,1.07)" font-size="8.2" text-anchor="end" font-weight="normal" font-style="normal" fill="#222">10</text>
<line x1="301.8" y1="266.8" x2="305.3" y2="266.8" stroke="#111" stroke-width="1"/>
<text x="0" y="0" transform="translate(299,269.4) scale(1,1.07)" font-size="8.2" text-anchor="end" font-weight="normal" font-style="normal" fill="#222">15</text>
<line x1="301.8" y1="242.8" x2="305.3" y2="242.8" stroke="#111" stroke-width="1"/>
<text x="0" y="0" transform="translate(299,245.4) scale(1,1.07)" font-size="8.2" text-anchor="end" font-weight="normal" font-style="normal" fill="#222">20</text>
<path d="M325.2 228.4 V225.4 H394 V228.4" fill="none" stroke="#000" stroke-width="1.15"/>
<text x="0" y="0" transform="translate(359.8,222.8) scale(1,1.07)" font-size="7.6" text-anchor="middle" font-weight="normal" font-style="normal" fill="#222"><tspan font-style="italic">P</tspan>&lt;.001</text>
<path d="M361 241.5 V238.5 H429.6 V241.5" fill="none" stroke="#000" stroke-width="1.15"/>
<text x="0" y="0" transform="translate(395.3,235.9) scale(1,1.07)" font-size="7.6" text-anchor="middle" font-weight="normal" font-style="normal" fill="#222"><tspan font-style="italic">P</tspan>&lt;.001</text>
<path d="M362 253.4 V250.4 H393.8 V253.4" fill="none" stroke="#000" stroke-width="1.15"/>
<text x="0" y="0" transform="translate(377.9,247.8) scale(1,1.07)" font-size="7.6" text-anchor="middle" font-weight="normal" font-style="normal" fill="#222"><tspan font-style="italic">P</tspan>&lt;.001</text>
<path d="M398.3 253.4 V250.4 H430.4 V253.4" fill="none" stroke="#000" stroke-width="1.15"/>
<text x="0" y="0" transform="translate(414.35,247.8) scale(1,1.07)" font-size="7.6" text-anchor="middle" font-weight="normal" font-style="normal" fill="#222">NS</text>
<path d="M323.8 319.8 V316.8 H356.1 V319.8" fill="none" stroke="#000" stroke-width="1.15"/>
<text x="0" y="0" transform="translate(339.95,314.2) scale(1,1.07)" font-size="7.6" text-anchor="middle" font-weight="normal" font-style="normal" fill="#222">NS</text>
<text x="0" y="0" transform="translate(273.7,288) rotate(-90) scale(1,1.07)" font-size="8.5" text-anchor="middle" font-weight="normal" font-style="normal" fill="#222"># circulating CFU <tspan font-style="italic">per</tspan> 10<tspan dy="-3.2" font-size="5.8">5</tspan><tspan dy="3.2"> cells</tspan></text>
<text x="0" y="0" transform="translate(286,290) rotate(-90) scale(1,1.07)" font-size="8" text-anchor="middle" font-weight="normal" font-style="normal" fill="#222">in PB</text>
<text x="0" y="0" transform="translate(323.5,351.5) scale(1,1.07)" font-size="8" text-anchor="middle" font-weight="normal" font-style="normal" fill="#222">WT</text>
<text x="0" y="0" transform="translate(359.5,351.5) scale(1,1.07)" font-size="8" text-anchor="middle" font-weight="normal" font-style="normal" fill="#222">WT</text>
<text x="0" y="0" transform="translate(395.8,351.5) scale(1,1.07)" font-size="8" text-anchor="middle" font-weight="normal" font-style="normal" fill="#222">PAI-1 KO</text>
<text x="0" y="0" transform="translate(431.6,351.5) scale(1,1.07)" font-size="8" text-anchor="middle" font-weight="normal" font-style="normal" fill="#222">PAI-1 KO</text>
<path d="M323.5 353.3 V360.7 M321.4 358 L323.5 360.7 L325.6 358" fill="none" stroke="#333" stroke-width="0.8"/>
<path d="M359.5 353.3 V360.7 M357.4 358 L359.5 360.7 L361.6 358" fill="none" stroke="#333" stroke-width="0.8"/>
<path d="M395.8 353.3 V360.7 M393.7 358 L395.8 360.7 L397.9 358" fill="none" stroke="#333" stroke-width="0.8"/>
<path d="M431.6 353.3 V360.7 M429.5 358 L431.6 360.7 L433.7 358" fill="none" stroke="#333" stroke-width="0.8"/>
<text x="0" y="0" transform="translate(323.5,371.3) scale(1,1.07)" font-size="8" text-anchor="middle" font-weight="normal" font-style="normal" fill="#222">WT</text>
<text x="0" y="0" transform="translate(359.5,371.3) scale(1,1.07)" font-size="8" text-anchor="middle" font-weight="normal" font-style="normal" fill="#222">PAI-1 KO</text>
<text x="0" y="0" transform="translate(395.8,371.3) scale(1,1.07)" font-size="8" text-anchor="middle" font-weight="normal" font-style="normal" fill="#222">WT</text>
<text x="0" y="0" transform="translate(431.6,371.3) scale(1,1.07)" font-size="8" text-anchor="middle" font-weight="normal" font-style="normal" fill="#222">PAI-1 KO</text>
<text x="0" y="0" transform="translate(308.6,351.5) scale(1,1.07)" font-size="8" text-anchor="end" font-weight="normal" font-style="normal" fill="#222">Donor</text>
<text x="0" y="0" transform="translate(308.6,371.3) scale(1,1.07)" font-size="8" text-anchor="end" font-weight="normal" font-style="normal" fill="#222">1<tspan dy="-3" font-size="5.6">st</tspan><tspan dy="3"> Recipient</tspan></text>
<line x1="109" y1="479.25" x2="109" y2="481.44" stroke="#111" stroke-width="1.2"/>
<line x1="102.5" y1="479.25" x2="115.5" y2="479.25" stroke="#111" stroke-width="1.2"/>
<rect x="96.25" y="481.44" width="25.5" height="24.16" fill="#2e4d7e"/>
<line x1="145.6" y1="479.25" x2="145.6" y2="480.22" stroke="#111" stroke-width="1.2"/>
<line x1="139.1" y1="479.25" x2="152.1" y2="479.25" stroke="#111" stroke-width="1.2"/>
<rect x="132.85" y="480.22" width="25.5" height="25.38" fill="#9099b9"/>
<line x1="182.3" y1="434.6" x2="182.3" y2="438.26" stroke="#111" stroke-width="1.2"/>
<line x1="175.8" y1="434.6" x2="188.8" y2="434.6" stroke="#111" stroke-width="1.2"/>
<rect x="169.55" y="438.26" width="25.5" height="67.34" fill="#a50028"/>
<line x1="218.9" y1="431.06" x2="218.9" y2="437.04" stroke="#111" stroke-width="1.2"/>
<line x1="212.4" y1="431.06" x2="225.4" y2="431.06" stroke="#111" stroke-width="1.2"/>
<rect x="206.15" y="437.04" width="25.5" height="68.56" fill="#cc8e7e"/>
<line x1="90.5" y1="405" x2="90.5" y2="506.2" stroke="#111" stroke-width="1.3"/>
<line x1="89.9" y1="505.6" x2="232.5" y2="505.6" stroke="#111" stroke-width="1.3"/>
<line x1="109" y1="505.6" x2="109" y2="508.6" stroke="#111" stroke-width="1"/>
<line x1="145.6" y1="505.6" x2="145.6" y2="508.6" stroke="#111" stroke-width="1"/>
<line x1="182.3" y1="505.6" x2="182.3" y2="508.6" stroke="#111" stroke-width="1"/>
<line x1="218.9" y1="505.6" x2="218.9" y2="508.6" stroke="#111" stroke-width="1"/>
<line x1="87" y1="505.6" x2="90.5" y2="505.6" stroke="#111" stroke-width="1"/>
<text x="0" y="0" transform="translate(84.7,508.2) scale(1,1.07)" font-size="8.2" text-anchor="end" font-weight="normal" font-style="normal" fill="#222">0.0</text>
<line x1="87" y1="481.2" x2="90.5" y2="481.2" stroke="#111" stroke-width="1"/>
<text x="0" y="0" transform="translate(84.7,483.8) scale(1,1.07)" font-size="8.2" text-anchor="end" font-weight="normal" font-style="normal" fill="#222">0.2</text>
<line x1="87" y1="456.8" x2="90.5" y2="456.8" stroke="#111" stroke-width="1"/>
<text x="0" y="0" transform="translate(84.7,459.4) scale(1,1.07)" font-size="8.2" text-anchor="end" font-weight="normal" font-style="normal" fill="#222">0.4</text>
<line x1="87" y1="432.4" x2="90.5" y2="432.4" stroke="#111" stroke-width="1"/>
<text x="0" y="0" transform="translate(84.7,435) scale(1,1.07)" font-size="8.2" text-anchor="end" font-weight="normal" font-style="normal" fill="#222">0.6</text>
<line x1="87" y1="408" x2="90.5" y2="408" stroke="#111" stroke-width="1"/>
<text x="0" y="0" transform="translate(84.7,410.6) scale(1,1.07)" font-size="8.2" text-anchor="end" font-weight="normal" font-style="normal" fill="#222">0.8</text>
<path d="M108.5 417 V414 H180.8 V417" fill="none" stroke="#000" stroke-width="1.15"/>
<text x="0" y="0" transform="translate(144.65,411.4) scale(1,1.07)" font-size="7.6" text-anchor="middle" font-weight="normal" font-style="normal" fill="#222"><tspan font-style="italic">P</tspan>&lt;.001</text>
<path d="M184.8 417 V414 H217.7 V417" fill="none" stroke="#000" stroke-width="1.15"/>
<text x="0" y="0" transform="translate(201.25,411.4) scale(1,1.07)" font-size="7.6" text-anchor="middle" font-weight="normal" font-style="normal" fill="#222">NS</text>
<path d="M144.8 430 V427 H217.7 V430" fill="none" stroke="#000" stroke-width="1.15"/>
<text x="0" y="0" transform="translate(181.25,424.4) scale(1,1.07)" font-size="7.6" text-anchor="middle" font-weight="normal" font-style="normal" fill="#222"><tspan font-style="italic">P</tspan>&lt;.001</text>
<path d="M108.5 475.5 V472.5 H147 V475.5" fill="none" stroke="#000" stroke-width="1.15"/>
<text x="0" y="0" transform="translate(127.75,469.9) scale(1,1.07)" font-size="7.6" text-anchor="middle" font-weight="normal" font-style="normal" fill="#222">NS</text>
<text x="0" y="0" transform="translate(67.9,455.5) rotate(-90) scale(1,1.07)" font-size="8.65" text-anchor="middle" font-weight="normal" font-style="normal" fill="#222">% homed PKH26<tspan dy="-3.2" font-size="5.2">+</tspan><tspan dy="3.2"> cells in BM</tspan></text>
<text x="0" y="0" transform="translate(109,519) scale(1,1.07)" font-size="8" text-anchor="middle" font-weight="normal" font-style="normal" fill="#222">WT</text>
<text x="0" y="0" transform="translate(145.6,519) scale(1,1.07)" font-size="8" text-anchor="middle" font-weight="normal" font-style="normal" fill="#222">WT</text>
<text x="0" y="0" transform="translate(182.3,519) scale(1,1.07)" font-size="8" text-anchor="middle" font-weight="normal" font-style="normal" fill="#222">PAI-1 KO</text>
<text x="0" y="0" transform="translate(218.9,519) scale(1,1.07)" font-size="8" text-anchor="middle" font-weight="normal" font-style="normal" fill="#222">PAI-1 KO</text>
<path d="M109 521.2 V528.6 M106.9 525.9 L109 528.6 L111.1 525.9" fill="none" stroke="#333" stroke-width="0.8"/>
<path d="M145.6 521.2 V528.6 M143.5 525.9 L145.6 528.6 L147.7 525.9" fill="none" stroke="#333" stroke-width="0.8"/>
<path d="M182.3 521.2 V528.6 M180.2 525.9 L182.3 528.6 L184.4 525.9" fill="none" stroke="#333" stroke-width="0.8"/>
<path d="M218.9 521.2 V528.6 M216.8 525.9 L218.9 528.6 L221 525.9" fill="none" stroke="#333" stroke-width="0.8"/>
<text x="0" y="0" transform="translate(109,538.5) scale(1,1.07)" font-size="8" text-anchor="middle" font-weight="normal" font-style="normal" fill="#222">WT</text>
<text x="0" y="0" transform="translate(145.6,538.5) scale(1,1.07)" font-size="8" text-anchor="middle" font-weight="normal" font-style="normal" fill="#222">PAI-1 KO</text>
<text x="0" y="0" transform="translate(182.3,538.5) scale(1,1.07)" font-size="8" text-anchor="middle" font-weight="normal" font-style="normal" fill="#222">WT</text>
<text x="0" y="0" transform="translate(218.9,538.5) scale(1,1.07)" font-size="8" text-anchor="middle" font-weight="normal" font-style="normal" fill="#222">PAI-1 KO</text>
<path d="M109 540.7 V548.1 M106.9 545.4 L109 548.1 L111.1 545.4" fill="none" stroke="#333" stroke-width="0.8"/>
<path d="M145.6 540.7 V548.1 M143.5 545.4 L145.6 548.1 L147.7 545.4" fill="none" stroke="#333" stroke-width="0.8"/>
<path d="M182.3 540.7 V548.1 M180.2 545.4 L182.3 548.1 L184.4 545.4" fill="none" stroke="#333" stroke-width="0.8"/>
<path d="M218.9 540.7 V548.1 M216.8 545.4 L218.9 548.1 L221 545.4" fill="none" stroke="#333" stroke-width="0.8"/>
<text x="0" y="0" transform="translate(109,558.3) scale(1,1.07)" font-size="8" text-anchor="middle" font-weight="normal" font-style="normal" fill="#222">WT</text>
<text x="0" y="0" transform="translate(145.6,558.3) scale(1,1.07)" font-size="8" text-anchor="middle" font-weight="normal" font-style="normal" fill="#222">WT</text>
<text x="0" y="0" transform="translate(182.3,558.3) scale(1,1.07)" font-size="8" text-anchor="middle" font-weight="normal" font-style="normal" fill="#222">WT</text>
<text x="0" y="0" transform="translate(218.9,558.3) scale(1,1.07)" font-size="8" text-anchor="middle" font-weight="normal" font-style="normal" fill="#222">WT</text>
<text x="0" y="0" transform="translate(93,519) scale(1,1.07)" font-size="8" text-anchor="end" font-weight="normal" font-style="normal" fill="#222">Donor</text>
<text x="0" y="0" transform="translate(93,538.5) scale(1,1.07)" font-size="8" text-anchor="end" font-weight="normal" font-style="normal" fill="#222">1<tspan dy="-3" font-size="5.6">st</tspan><tspan dy="3"> Recipient</tspan></text>
<text x="0" y="0" transform="translate(93,558.3) scale(1,1.07)" font-size="8" text-anchor="end" font-weight="normal" font-style="normal" fill="#222">2<tspan dy="-3" font-size="5.6">nd</tspan><tspan dy="3"> Recipient</tspan></text>
<line x1="324.2" y1="477.71" x2="324.2" y2="486.29" stroke="#111" stroke-width="1.2"/>
<line x1="317.9" y1="477.71" x2="330.5" y2="477.71" stroke="#111" stroke-width="1.2"/>
<rect x="311.55" y="486.29" width="25.3" height="19.11" fill="#2e4d7e"/>
<line x1="361" y1="470.69" x2="361" y2="474" stroke="#111" stroke-width="1.2"/>
<line x1="354.7" y1="470.69" x2="367.3" y2="470.69" stroke="#111" stroke-width="1.2"/>
<rect x="348.35" y="474" width="25.3" height="31.39" fill="#9099b9"/>
<line x1="397.75" y1="427.4" x2="397.75" y2="436.76" stroke="#111" stroke-width="1.2"/>
<line x1="391.45" y1="427.4" x2="404.05" y2="427.4" stroke="#111" stroke-width="1.2"/>
<rect x="385.1" y="436.76" width="25.3" height="68.64" fill="#a50028"/>
<line x1="434.75" y1="434.42" x2="434.75" y2="437.15" stroke="#111" stroke-width="1.2"/>
<line x1="428.45" y1="434.42" x2="441.05" y2="434.42" stroke="#111" stroke-width="1.2"/>
<rect x="422.1" y="437.15" width="25.3" height="68.25" fill="#cc8e7e"/>
<line x1="305.9" y1="404.8" x2="305.9" y2="506" stroke="#111" stroke-width="1.3"/>
<line x1="305.3" y1="505.4" x2="452.5" y2="505.4" stroke="#111" stroke-width="1.3"/>
<line x1="324.2" y1="505.4" x2="324.2" y2="508.4" stroke="#111" stroke-width="1"/>
<line x1="361" y1="505.4" x2="361" y2="508.4" stroke="#111" stroke-width="1"/>
<line x1="397.75" y1="505.4" x2="397.75" y2="508.4" stroke="#111" stroke-width="1"/>
<line x1="434.75" y1="505.4" x2="434.75" y2="508.4" stroke="#111" stroke-width="1"/>
<line x1="302.4" y1="505.4" x2="305.9" y2="505.4" stroke="#111" stroke-width="1"/>
<text x="0" y="0" transform="translate(298.9,508) scale(1,1.07)" font-size="8.2" text-anchor="end" font-weight="normal" font-style="normal" fill="#222">0</text>
<line x1="302.4" y1="485.9" x2="305.9" y2="485.9" stroke="#111" stroke-width="1"/>
<text x="0" y="0" transform="translate(298.9,488.5) scale(1,1.07)" font-size="8.2" text-anchor="end" font-weight="normal" font-style="normal" fill="#222">5</text>
<line x1="302.4" y1="466.4" x2="305.9" y2="466.4" stroke="#111" stroke-width="1"/>
<text x="0" y="0" transform="translate(298.9,469) scale(1,1.07)" font-size="8.2" text-anchor="end" font-weight="normal" font-style="normal" fill="#222">10</text>
<line x1="302.4" y1="446.9" x2="305.9" y2="446.9" stroke="#111" stroke-width="1"/>
<text x="0" y="0" transform="translate(298.9,449.5) scale(1,1.07)" font-size="8.2" text-anchor="end" font-weight="normal" font-style="normal" fill="#222">15</text>
<line x1="302.4" y1="427.4" x2="305.9" y2="427.4" stroke="#111" stroke-width="1"/>
<text x="0" y="0" transform="translate(298.9,430) scale(1,1.07)" font-size="8.2" text-anchor="end" font-weight="normal" font-style="normal" fill="#222">20</text>
<line x1="302.4" y1="407.9" x2="305.9" y2="407.9" stroke="#111" stroke-width="1"/>
<text x="0" y="0" transform="translate(298.9,410.5) scale(1,1.07)" font-size="8.2" text-anchor="end" font-weight="normal" font-style="normal" fill="#222">25</text>
<path d="M328.5 412.5 V409.5 H398.75 V412.5" fill="none" stroke="#000" stroke-width="1.15"/>
<text x="0" y="0" transform="translate(363.62,406.9) scale(1,1.07)" font-size="7.6" text-anchor="middle" font-weight="normal" font-style="normal" fill="#222"><tspan font-style="italic">P</tspan>&lt;.001</text>
<path d="M401.25 412.5 V409.5 H433 V412.5" fill="none" stroke="#000" stroke-width="1.15"/>
<text x="0" y="0" transform="translate(417.12,406.9) scale(1,1.07)" font-size="7.6" text-anchor="middle" font-weight="normal" font-style="normal" fill="#222">NS</text>
<path d="M360.5 425 V422 H433 V425" fill="none" stroke="#000" stroke-width="1.15"/>
<text x="0" y="0" transform="translate(396.75,419.4) scale(1,1.07)" font-size="7.6" text-anchor="middle" font-weight="normal" font-style="normal" fill="#222"><tspan font-style="italic">P</tspan>&lt;.001</text>
<path d="M325.2 465.5 V462.5 H360.5 V465.5" fill="none" stroke="#000" stroke-width="1.15"/>
<text x="0" y="0" transform="translate(342.85,459.9) scale(1,1.07)" font-size="7.6" text-anchor="middle" font-weight="normal" font-style="normal" fill="#222"><tspan font-style="italic">P</tspan>=.0127</text>
<text x="0" y="0" transform="translate(273.2,455.4) rotate(-90) scale(1,1.07)" font-size="8.5" text-anchor="middle" font-weight="normal" font-style="normal" fill="#222"># homed CFU <tspan font-style="italic">per</tspan> 10<tspan dy="-3.2" font-size="5.8">5</tspan><tspan dy="3.2"> cells</tspan></text>
<text x="0" y="0" transform="translate(284.9,454.8) rotate(-90) scale(1,1.07)" font-size="8.5" text-anchor="middle" font-weight="normal" font-style="normal" fill="#222">in BM</text>
<text x="0" y="0" transform="translate(324.2,519) scale(1,1.07)" font-size="8" text-anchor="middle" font-weight="normal" font-style="normal" fill="#222">WT</text>
<text x="0" y="0" transform="translate(361,519) scale(1,1.07)" font-size="8" text-anchor="middle" font-weight="normal" font-style="normal" fill="#222">WT</text>
<text x="0" y="0" transform="translate(397.75,519) scale(1,1.07)" font-size="8" text-anchor="middle" font-weight="normal" font-style="normal" fill="#222">PAI-1 KO</text>
<text x="0" y="0" transform="translate(434.75,519) scale(1,1.07)" font-size="8" text-anchor="middle" font-weight="normal" font-style="normal" fill="#222">PAI-1 KO</text>
<path d="M324.2 521.2 V528.6 M322.1 525.9 L324.2 528.6 L326.3 525.9" fill="none" stroke="#333" stroke-width="0.8"/>
<path d="M361 521.2 V528.6 M358.9 525.9 L361 528.6 L363.1 525.9" fill="none" stroke="#333" stroke-width="0.8"/>
<path d="M397.75 521.2 V528.6 M395.65 525.9 L397.75 528.6 L399.85 525.9" fill="none" stroke="#333" stroke-width="0.8"/>
<path d="M434.75 521.2 V528.6 M432.65 525.9 L434.75 528.6 L436.85 525.9" fill="none" stroke="#333" stroke-width="0.8"/>
<text x="0" y="0" transform="translate(324.2,538.5) scale(1,1.07)" font-size="8" text-anchor="middle" font-weight="normal" font-style="normal" fill="#222">WT</text>
<text x="0" y="0" transform="translate(361,538.5) scale(1,1.07)" font-size="8" text-anchor="middle" font-weight="normal" font-style="normal" fill="#222">PAI-1 KO</text>
<text x="0" y="0" transform="translate(397.75,538.5) scale(1,1.07)" font-size="8" text-anchor="middle" font-weight="normal" font-style="normal" fill="#222">WT</text>
<text x="0" y="0" transform="translate(434.75,538.5) scale(1,1.07)" font-size="8" text-anchor="middle" font-weight="normal" font-style="normal" fill="#222">PAI-1 KO</text>
<path d="M324.2 540.7 V548.1 M322.1 545.4 L324.2 548.1 L326.3 545.4" fill="none" stroke="#333" stroke-width="0.8"/>
<path d="M361 540.7 V548.1 M358.9 545.4 L361 548.1 L363.1 545.4" fill="none" stroke="#333" stroke-width="0.8"/>
<path d="M397.75 540.7 V548.1 M395.65 545.4 L397.75 548.1 L399.85 545.4" fill="none" stroke="#333" stroke-width="0.8"/>
<path d="M434.75 540.7 V548.1 M432.65 545.4 L434.75 548.1 L436.85 545.4" fill="none" stroke="#333" stroke-width="0.8"/>
<text x="0" y="0" transform="translate(324.2,558.3) scale(1,1.07)" font-size="8" text-anchor="middle" font-weight="normal" font-style="normal" fill="#222">WT</text>
<text x="0" y="0" transform="translate(361,558.3) scale(1,1.07)" font-size="8" text-anchor="middle" font-weight="normal" font-style="normal" fill="#222">WT</text>
<text x="0" y="0" transform="translate(397.75,558.3) scale(1,1.07)" font-size="8" text-anchor="middle" font-weight="normal" font-style="normal" fill="#222">WT</text>
<text x="0" y="0" transform="translate(434.75,558.3) scale(1,1.07)" font-size="8" text-anchor="middle" font-weight="normal" font-style="normal" fill="#222">WT</text>
<text x="0" y="0" transform="translate(308.7,519) scale(1,1.07)" font-size="8" text-anchor="end" font-weight="normal" font-style="normal" fill="#222">Donor</text>
<text x="0" y="0" transform="translate(308.7,538.5) scale(1,1.07)" font-size="8" text-anchor="end" font-weight="normal" font-style="normal" fill="#222">1<tspan dy="-3" font-size="5.6">st</tspan><tspan dy="3"> Recipient</tspan></text>
<text x="0" y="0" transform="translate(308.7,558.3) scale(1,1.07)" font-size="8" text-anchor="end" font-weight="normal" font-style="normal" fill="#222">2<tspan dy="-3" font-size="5.6">nd</tspan><tspan dy="3"> Recipient</tspan></text>
</svg>
</body></html>
